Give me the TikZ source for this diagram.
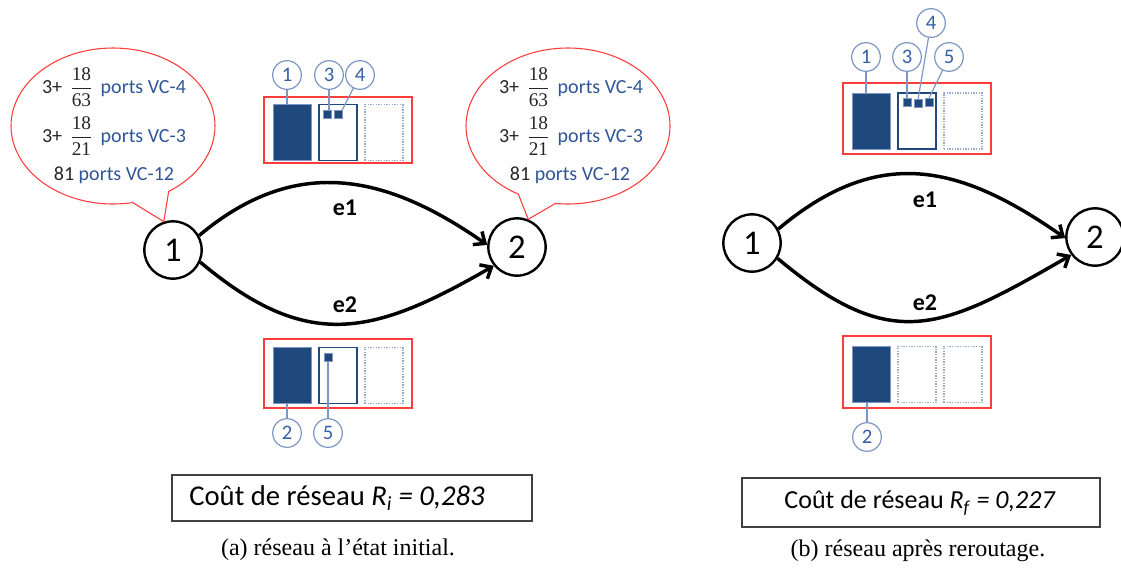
\documentclass[tikz,border=0pt]{standalone}
\usepackage{fontspec}
\setmainfont{Carlito}
\newfontfamily\capfont{Liberation Serif}
\usetikzlibrary{arrows.meta,shapes.callouts}

\definecolor{portblue}{RGB}{47,85,151}
\definecolor{slotblue}{RGB}{31,73,125}
\definecolor{tagline}{RGB}{125,150,195}
\definecolor{tagtext}{RGB}{55,95,165}
\definecolor{dotgray}{RGB}{150,170,205}
\definecolor{bubred}{RGB}{255,60,60}

\newcommand{\vcfrac}[2]{$\displaystyle\frac{\hbox{\capfont\fontsize{14.5}{15}\selectfont #1}}{\hbox{\capfont\fontsize{14.5}{15}\selectfont #2}}$}

\begin{document}
\begin{tikzpicture}[
  x=0.75pt, y=0.75pt,
  vertex/.style={circle,draw,line width=1.8pt,minimum size=43pt,inner sep=0pt,font=\fontsize{26}{26}\selectfont},
  link/.style={line width=2.6pt,-{Straight Barb[length=7pt,width=12pt]}},
  elabel/.style={font=\fontsize{18}{18}\selectfont\bfseries},
  bubble/.style={ellipse callout,draw=bubred,line width=0.8pt,minimum width=153pt,minimum height=117pt,callout pointer arc=22},
  ports/.style={font=\fontsize{15}{16}\selectfont,text=black!85,inner sep=0pt},
  fullslot/.style={rectangle,fill=slotblue,draw=tagline,line width=0.6pt,minimum width=28.5pt,minimum height=42pt,inner sep=0pt,outer sep=0pt},
  usedslot/.style={rectangle,draw=slotblue,line width=0.9pt,minimum width=28.5pt,minimum height=42pt,inner sep=0pt,outer sep=0pt},
  freeslot/.style={rectangle,draw=dotgray,densely dotted,line width=1pt,minimum width=28.5pt,minimum height=42pt,inner sep=0pt,outer sep=0pt},
  cell/.style={rectangle,fill=slotblue,draw=tagline,line width=0.4pt,minimum size=5.8pt,inner sep=0pt,outer sep=0pt},
  tag/.style={circle,draw=tagline,line width=0.9pt,text=tagtext,minimum size=21.5pt,inner sep=0pt,font=\fontsize{15.5}{15.5}\selectfont},
  tagwire/.style={draw=tagline,line width=0.9pt},
  frame/.style={draw=bubred,line width=0.9pt},
  costbox/.style={rectangle,draw=black!75,line width=1pt,inner sep=0pt},
  costtext/.style={inner sep=0pt},
  caption/.style={font=\capfont\fontsize{18}{18}\selectfont}
]
  \useasboundingbox (0,0) rectangle (1121,-568);

  \node[vertex] (na1) at (173,-250) {1};
  \node[vertex] (na2) at (517,-247) {2};
  \draw[link] (na1.29) .. controls +(40:125) and +(145:125) .. (na2.176);
  \draw[link] (na1.-24) .. controls +(-40:140) and +(-150:140) .. (na2.-141);
  \node[elabel] (ea1) at (345,-208) {e1};
  \node[elabel] (ea2) at (345,-305) {e2};

  \node[bubble,callout absolute pointer={(na1.108)}] (ba1) at (113,-126) {};
  \node[bubble,callout absolute pointer={(na2.68)}] (ba2) at (568,-126) {};
  \node[ports] (pa1) at (114,-87) {3+\hspace{6pt}\vcfrac{18}{63}\hspace{6pt}\textcolor{portblue}{ports VC-4}};
  \node[ports] (pa2) at (114,-136) {3+\hspace{6pt}\vcfrac{18}{21}\hspace{6pt}\textcolor{portblue}{ports VC-3}};
  \node[ports] (pa3) at (114,-175) {81~\textcolor{portblue}{ports VC-12}};
  \node[ports] (pa4) at (571,-87) {3+\hspace{6pt}\vcfrac{18}{63}\hspace{6pt}\textcolor{portblue}{ports VC-4}};
  \node[ports] (pa5) at (571,-136) {3+\hspace{6pt}\vcfrac{18}{21}\hspace{6pt}\textcolor{portblue}{ports VC-3}};
  \node[ports] (pa6) at (570,-175) {81~\textcolor{portblue}{ports VC-12}};

  \draw[frame] (264,-97) rectangle (412,-163);
  \node[fullslot] (sa1) at (292,-132.5) {};
  \node[usedslot] (sa2) at (338,-132.5) {};
  \node[freeslot] (sa3) at (384,-132.5) {};
  \node[cell] (qa1) at (327.5,-114) {};
  \node[cell] (qa2) at (338,-114.5) {};
  \node[tag] (ta1) at (287,-75) {1};
  \node[tag] (ta3) at (329,-75) {3};
  \node[tag] (ta4) at (360,-75) {4};
  \draw[tagwire] (ta1.south) -- (ta1.south |- sa1.north);
  \draw[tagwire] (ta3.south) -- (ta3.south |- qa1.north);
  \draw[tagwire] (ta4) -- (qa2.north east);

  \draw[frame] (264,-339) rectangle (412,-408);
  \node[fullslot] (sa4) at (292,-375.5) {};
  \node[usedslot] (sa5) at (338,-375.5) {};
  \node[freeslot] (sa6) at (384,-375.5) {};
  \node[cell] (qa3) at (328,-357.5) {};
  \node[tag] (ta2) at (287,-433) {2};
  \node[tag] (ta5) at (328,-433) {5};
  \draw[tagwire] (ta2.north) -- (ta2.north |- sa4.south);
  \draw[tagwire] (ta5.north) -- (qa3.south);

  \node[costbox,minimum width=270pt,minimum height=34.5pt] (ca) at (352,-498) {};
  \node[costtext,font=\fontsize{21.5}{22}\selectfont] (ra) at (337,-498) {Coût de réseau \textit{R}\textsubscript{\textit{i}} \textit{= 0,283}};
  \node[caption] (capa) at (338,-550) {(a) réseau à l’état initial.};

  \node[vertex] (nb1) at (752,-243) {1};
  \node[vertex] (nb2) at (1095,-237) {2};
  \draw[link] (nb1.28) .. controls +(40:130) and +(145:130) .. (nb2.182);
  \draw[link] (nb1.-31) .. controls +(-40:150) and +(-150:150) .. (nb2.-143);
  \node[elabel] (eb1) at (925,-200) {e1};
  \node[elabel] (eb2) at (925,-303) {e2};

  \draw[frame] (843,-83) rectangle (991,-154);
  \node[fullslot] (sb1) at (871.5,-121) {};
  \node[usedslot] (sb2) at (917,-121) {};
  \node[freeslot] (sb3) at (963,-121) {};
  \node[cell] (qb1) at (907,-102.5) {};
  \node[cell] (qb2) at (918,-103.5) {};
  \node[cell] (qb3) at (929,-102) {};
  \node[tag] (tb1) at (866,-57) {1};
  \node[tag] (tb3) at (907,-57) {3};
  \node[tag] (tb4) at (931,-23) {4};
  \node[tag] (tb5) at (949,-57) {5};
  \draw[tagwire] (tb1.south) -- (tb1.south |- sb1.north);
  \draw[tagwire] (tb3.south) -- (qb1.north);
  \draw[tagwire] (tb4) -- (qb2.north);
  \draw[tagwire] (tb5) -- (qb3.north);

  \draw[frame] (843,-336) rectangle (991,-408);
  \node[fullslot] (sb4) at (871.5,-374.5) {};
  \node[freeslot] (sb5) at (917,-374.5) {};
  \node[freeslot] (sb6) at (963,-374.5) {};
  \node[tag] (tb2) at (867,-437) {2};
  \draw[tagwire] (tb2.north) -- (tb2.north |- sb4.south);

  \node[costbox,minimum width=268.5pt,minimum height=36.75pt] (cb) at (921,-502.5) {};
  \node[costtext,font=\fontsize{19.5}{20}\selectfont] (rb) at (920,-503) {Coût de réseau \textit{R}\textsubscript{\textit{f}} \textit{= 0,227}};
  \node[caption] (capb) at (918,-551) {(b) réseau après reroutage.};
\end{tikzpicture}
\end{document}
